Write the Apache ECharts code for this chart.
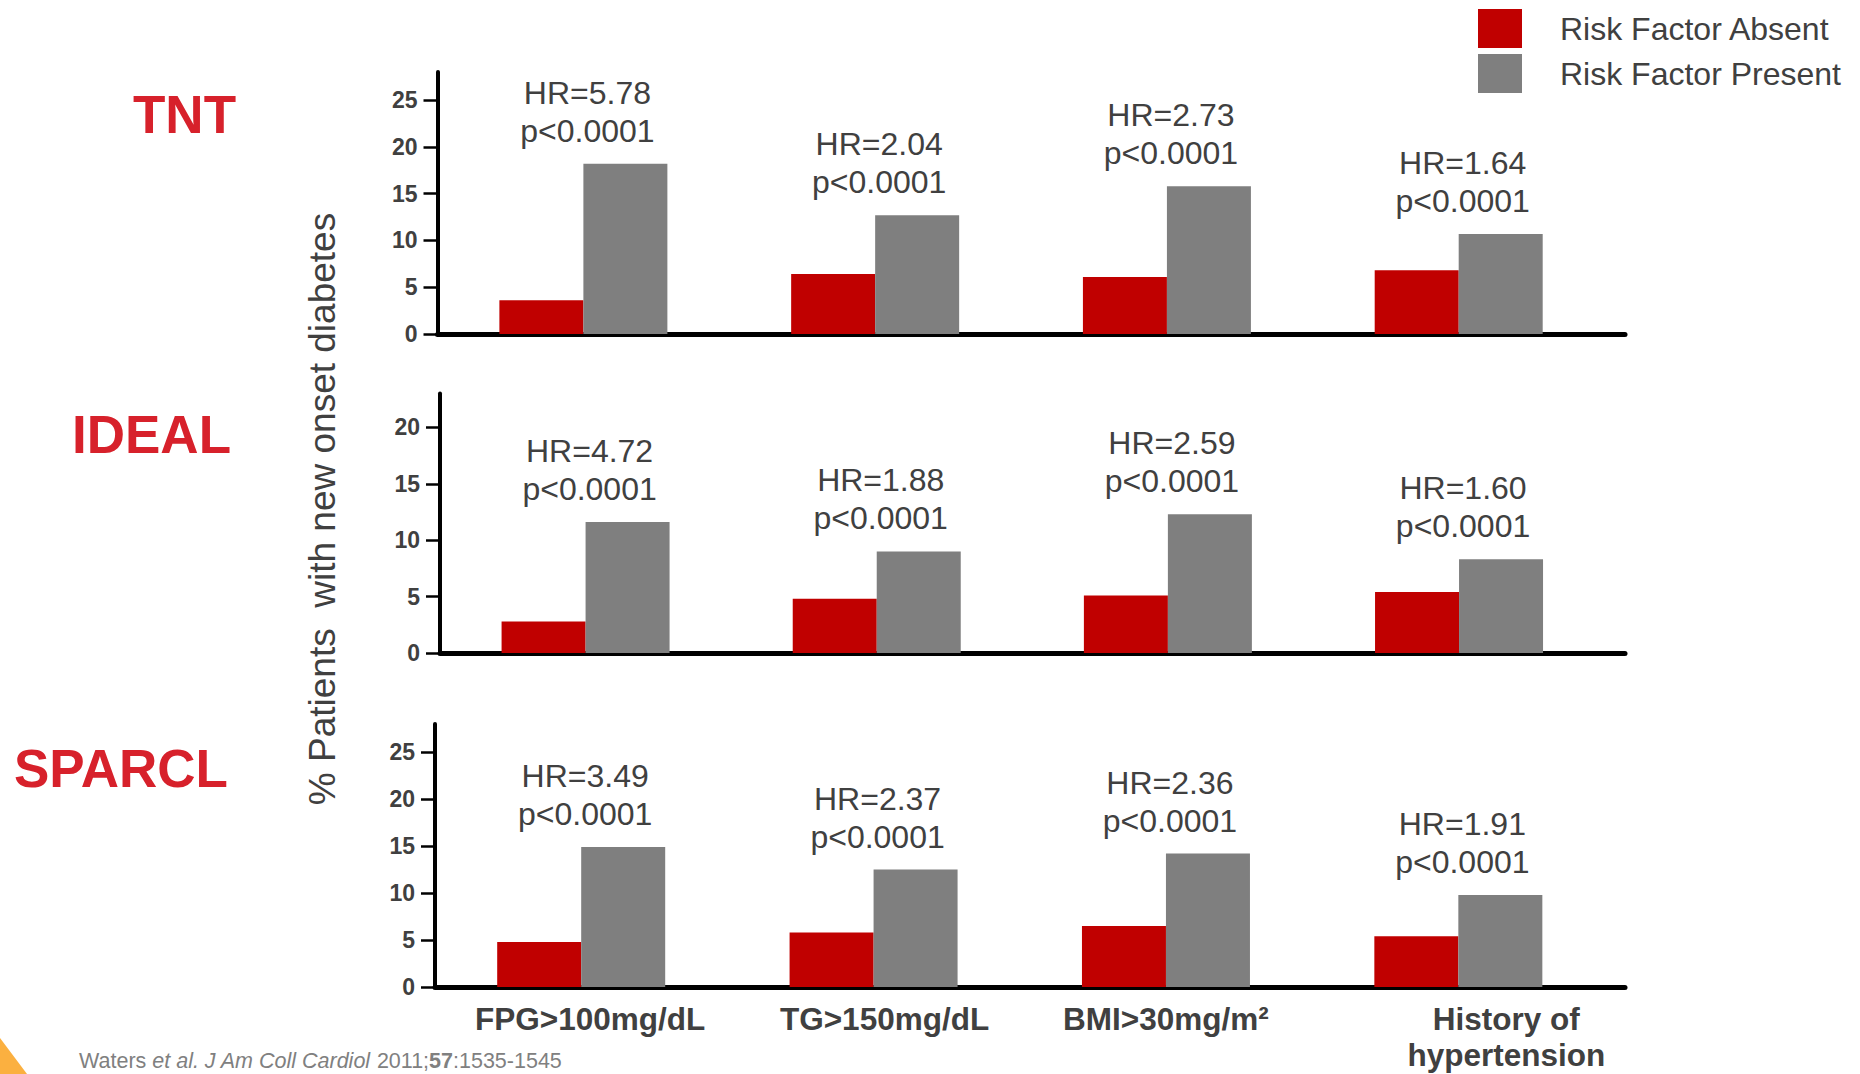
<!DOCTYPE html>
<html><head><meta charset="utf-8">
<script src="https://cdn.jsdelivr.net/npm/echarts@6/dist/echarts.min.js"></script>
<style>html,body{margin:0;padding:0;background:#fff}#c{width:1860px;height:1074px}</style>
</head><body><div id="c"></div>
<script>
// ---------- data ----------
const categories = ['FPG>100mg/dL', 'TG>150mg/dL', 'BMI>30mg/m²', 'History of\nhypertension'];
const studies = ['TNT', 'IDEAL', 'SPARCL'];
const seriesNames = ['Risk Factor Absent', 'Risk Factor Present'];

const tntAbsent = [3.6, 6.4, 6.1, 6.8];
const tntPresent = [18.2, 12.7, 15.8, 10.7];
const idealAbsent = [2.8, 4.8, 5.1, 5.4];
const idealPresent = [11.6, 9.0, 12.3, 8.3];
const sparclAbsent = [4.8, 5.8, 6.5, 5.4];
const sparclPresent = [14.9, 12.5, 14.2, 9.8];

const tntHR = [5.78, 2.04, 2.73, 1.64];
const idealHR = [4.72, 1.88, 2.59, 1.60];
const sparclHR = [3.49, 2.37, 2.36, 1.91];
const pValues = ['p<0.0001', 'p<0.0001', 'p<0.0001', 'p<0.0001'];

const tntTicks = [0, 5, 10, 15, 20, 25];
const idealTicks = [0, 5, 10, 15, 20];
const sparclTicks = [0, 5, 10, 15, 20, 25];

const yAxisTitle = '% Patients  with new onset diabetes';
const citation = 'Waters {i|et al.} {i|J Am Coll Cardiol} 2011;{b|57}:1535-1545';

// ---------- layout / style ----------
const FONT = '"Liberation Sans", Arial, Helvetica, sans-serif';
const RED = '#C00000', GRAY = '#7F7F7F', TXT = '#404040', TITLE_RED = '#D7212B';
const panels = [
  { absent: tntAbsent, present: tntPresent, hr: tntHR, ticks: tntTicks, yMax: 28, top: 72, height: 262, left: 437.5 },
  { absent: idealAbsent, present: idealPresent, hr: idealHR, ticks: idealTicks, yMax: 23, top: 393.5, height: 259.5, left: 440 },
  { absent: sparclAbsent, present: sparclPresent, hr: sparclHR, ticks: sparclTicks, yMax: 28, top: 724, height: 263, left: 435 }
];
const XMAX = 4.07;
const BAR_W = 84;

const grid = [], xAxis = [], yAxis = [], series = [];
panels.forEach((p, k) => {
  grid.push({ left: p.left, top: p.top, width: 1625 - p.left, height: p.height, containLabel: false });
  const bottom = k === panels.length - 1;
  xAxis.push({
    type: 'value', gridIndex: k, min: 0, max: XMAX,
    axisLine: { show: true, onZero: true, lineStyle: { color: '#000', width: 5 } },
    axisTick: { show: false }, splitLine: { show: false },
    axisLabel: bottom ? {
      show: true,
      customValues: categories.map((c, i) => i + 0.5),
      margin: 14,
      formatter: (v) => {
        const i = Math.floor(v);
        return categories[i].split('\n').map(l => `{c${i}|${l}}`).join('\n');
      },
      rich: (() => {
        const base = { fontFamily: FONT, fontWeight: 'bold', fontSize: 31.5, color: TXT, lineHeight: 36 };
        const pads = [[0, 0, 0, 18], [0, 0, 0, 22], [0, 0, 0, 0], [0, 0, 0, 96]];
        const r = {};
        pads.forEach((pd, i) => { r['c' + i] = Object.assign({ padding: pd }, base); });
        return r;
      })()
    } : { show: false }
  });
  yAxis.push({
    type: 'value', gridIndex: k, min: 0, max: p.yMax,
    axisLine: { show: true, lineStyle: { color: '#000', width: 4 } },
    axisTick: { show: true, customValues: p.ticks, length: 14, lineStyle: { color: '#000', width: 2.5 } },
    axisLabel: { show: true, customValues: p.ticks, margin: 20, fontFamily: FONT, fontWeight: 'bold', fontSize: 23, color: TXT },
    splitLine: { show: false }
  });
  series.push({
    type: 'bar', name: seriesNames[0], xAxisIndex: k, yAxisIndex: k,
    barWidth: BAR_W, barGap: '0%',
    itemStyle: { color: RED },
    data: p.absent.map((v, i) => [i + 0.5, v])
  });
  series.push({
    type: 'bar', name: seriesNames[1], xAxisIndex: k, yAxisIndex: k,
    barWidth: BAR_W, barGap: '0%',
    itemStyle: { color: GRAY },
    label: {
      show: true, position: 'top', distance: 14, offset: [-BAR_W / 2 + 4, 0],
      fontFamily: FONT, fontSize: 32, lineHeight: 38, color: TXT,
      formatter: (prm) => 'HR=' + p.hr[prm.dataIndex].toFixed(2) + '\n' + pValues[prm.dataIndex]
    },
    data: p.present.map((v, i) => [i + 0.5, v])
  });
});

const titleX = [133, 72, 14], titleY = [114, 434, 768];
const graphic = [
  { type: 'polygon', silent: true, shape: { points: [[0, 1038], [0, 1074], [27, 1074]] }, style: { fill: '#FBB040' } }
];
studies.forEach((s, k) => {
  graphic.push({ type: 'text', x: titleX[k], y: titleY[k],
    style: { text: s, fontFamily: FONT, fontWeight: 'bold', fontSize: 53, fill: TITLE_RED, textAlign: 'left', textVerticalAlign: 'middle' } });
});
graphic.push({ type: 'text', x: 322, y: 509, rotation: Math.PI / 2,
  style: { text: yAxisTitle, fontFamily: FONT, fontSize: 37, fill: TXT, textAlign: 'center', textVerticalAlign: 'middle' } });
graphic.push({ type: 'text', x: 79, y: 1061,
  style: { text: citation, fontFamily: FONT, fontSize: 21.5, fill: '#808080', textAlign: 'left', textVerticalAlign: 'middle',
    rich: { i: { fontFamily: FONT, fontSize: 21.5, fontStyle: 'italic', fill: '#808080', color: '#808080' },
            b: { fontFamily: FONT, fontSize: 21.5, fontWeight: 'bold', fill: '#808080', color: '#808080' } } } });

const option = {
  animation: false,
  backgroundColor: '#ffffff',
  legend: {
    orient: 'vertical', left: 1478, top: 9, padding: 0,
    itemWidth: 44, itemHeight: 39, itemGap: 6, icon: 'rect',
    selectedMode: false,
    data: seriesNames,
    textStyle: { fontFamily: FONT, fontSize: 32, color: TXT, padding: [0, 0, 0, 33] }
  },
  grid, xAxis, yAxis, series, graphic
};

const chart = echarts.init(document.getElementById('c'), null, { renderer: 'svg' });
chart.setOption(option);
</script>
</body></html>
